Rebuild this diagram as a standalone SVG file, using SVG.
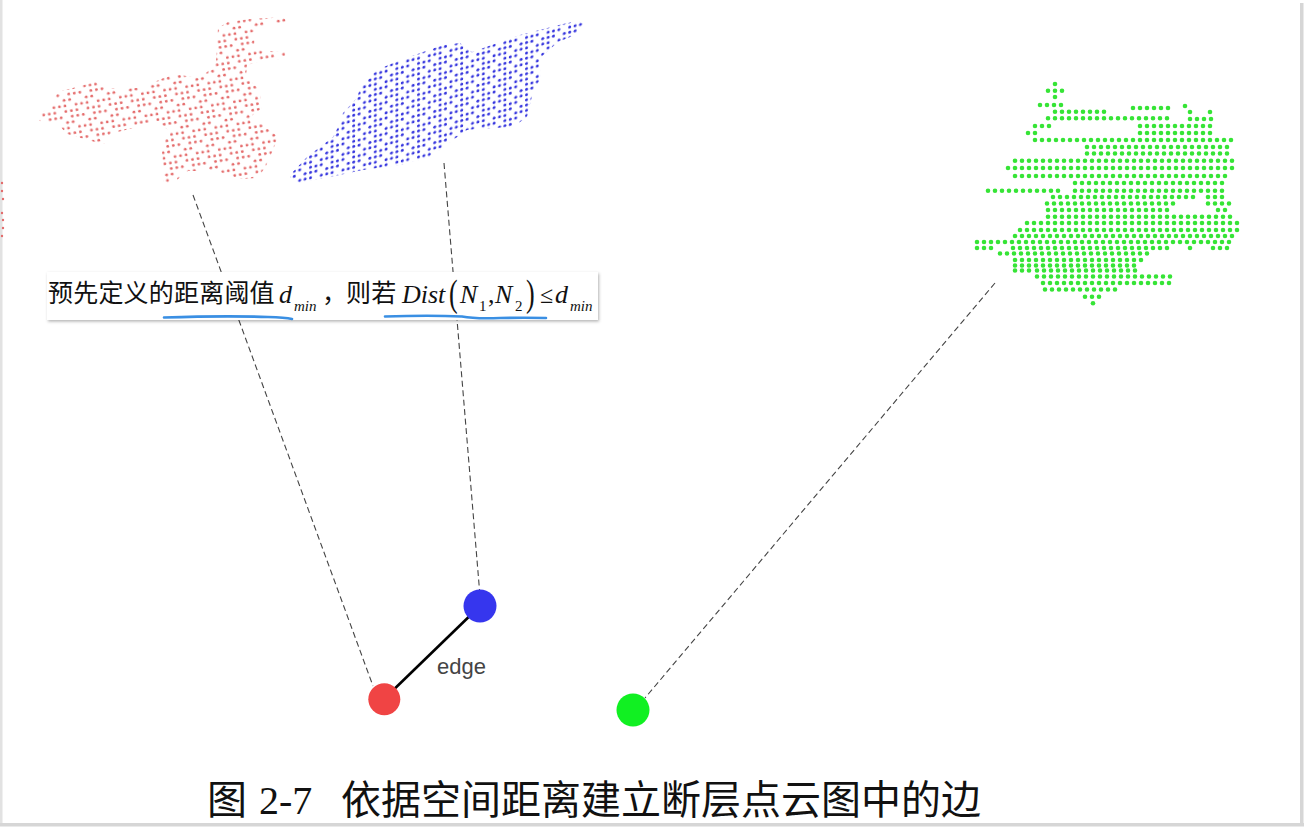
<svg xmlns="http://www.w3.org/2000/svg" width="1309" height="830" viewBox="0 0 1309 830">
<style>
.cj{font-family:"Noto Sans CJK SC","Noto Sans CJK JP",sans-serif;fill:#111}
.mi{font-family:"Liberation Serif",serif;font-style:italic;fill:#111}
.mr{font-family:"Liberation Serif",serif;fill:#111}
.dash{stroke:#444;stroke-width:1.1;stroke-dasharray:6 3.5;fill:none}
#cloud-green line{stroke:#36e436;stroke-width:4.6;stroke-linecap:round;stroke-dasharray:0 7}
.stray{fill:#e36b6b}
.rd{fill:#e46a6a}
.bd{fill:#3535de}
.ul{stroke:#3a8fe3;stroke-width:2.6;stroke-linecap:round;fill:none}
</style>
<defs>
<pattern id="pr" patternUnits="userSpaceOnUse" width="22.4" height="22.4" patternTransform="rotate(-9)">
<circle class="rd" cx="2.8" cy="2.8" r="1.4"/><circle class="rd" cx="14" cy="2.8" r="1.4"/><circle class="rd" cx="19.6" cy="2.8" r="1.4"/>
<circle class="rd" cx="2.8" cy="8.4" r="1.4"/><circle class="rd" cx="8.4" cy="8.4" r="1.4"/><circle class="rd" cx="14" cy="8.4" r="1.4"/>
<circle class="rd" cx="8.4" cy="14" r="1.4"/><circle class="rd" cx="14" cy="14" r="1.4"/><circle class="rd" cx="19.6" cy="14" r="1.4"/>
<circle class="rd" cx="2.8" cy="19.6" r="1.4"/><circle class="rd" cx="8.4" cy="19.6" r="1.4"/>
</pattern>
<pattern id="pb" patternUnits="userSpaceOnUse" width="21.6" height="15.6" patternTransform="skewY(-13.5)">
<circle class="bd" cx="2.7" cy="2.6" r="1.5"/><circle class="bd" cx="8.1" cy="2.6" r="1.5"/><circle class="bd" cx="18.9" cy="2.6" r="1.5"/>
<circle class="bd" cx="8.1" cy="7.8" r="1.5"/><circle class="bd" cx="13.5" cy="7.8" r="1.5"/><circle class="bd" cx="18.9" cy="7.8" r="1.5"/>
<circle class="bd" cx="2.7" cy="13" r="1.5"/><circle class="bd" cx="8.1" cy="13" r="1.5"/><circle class="bd" cx="13.5" cy="13" r="1.5"/>
</pattern>
<filter id="sh" x="-5%" y="-30%" width="110%" height="160%">
<feDropShadow dx="1" dy="1.5" stdDeviation="1.5" flood-color="#000" flood-opacity="0.3"/>
</filter>
</defs>
<rect width="1309" height="830" fill="#fff"/>
<rect x="0" y="0" width="2.5" height="826" fill="#e2e2e2"/>
<rect x="1300" y="3" width="3.5" height="823" fill="#d6d6d6"/>
<rect x="0" y="823" width="1304" height="3.5" fill="#d6d6d6"/>

<g id="stray-red">
<circle class="stray" cx="2" cy="183" r="1.2"/><circle class="stray" cx="2" cy="191" r="1.2"/><circle class="stray" cx="3" cy="199" r="1.2"/><circle class="stray" cx="2" cy="213" r="1.2"/><circle class="stray" cx="3" cy="220" r="1.2"/><circle class="stray" cx="3" cy="228" r="1.2"/><circle class="stray" cx="2" cy="236" r="1.2"/>
</g>

<g id="cloud-red">
<polygon fill="url(#pr)" points="37,117 50,106 58,92 95,82 110,88 140,88 173,74 200,78 213,67 216,62 218,28 228,22 250,19 285,17 286,23 255,27 254,50 285,52 286,58 258,62 247,65 246,77 260,90 262,108 250,117 267,127 278,137 273,150 265,168 257,178 240,179 217,171 188,171 173,183 164,183 162,152 168,130 157,121 133,128 110,134 104,144 95,142 67,134 58,124 40,121"/>
</g>

<g id="cloud-blue">
<polygon fill="url(#pb)" points="290,175 307,157 333,137 340,123 343,113 357,98 362,82 377,70 393,63 423,52 443,45 460,43 472,52 520,35 563,24 578,21 585,24 575,35 558,42 540,58 541,78 533,92 527,117 513,127 493,128 467,130 453,140 430,157 400,165 363,170 330,177 300,183 292,182"/>
</g>

<g id="cloud-green">
<line x1="1055" y1="84" x2="1055.5" y2="84"/>
<line x1="1048" y1="90.7" x2="1062.5" y2="90.7"/>
<line x1="1055" y1="97" x2="1055.5" y2="97"/>
<line x1="1040" y1="105" x2="1061.5" y2="105"/>
<line x1="1055" y1="111.7" x2="1104.5" y2="111.7"/>
<line x1="1133" y1="108" x2="1168.5" y2="108"/>
<line x1="1185" y1="106" x2="1185.5" y2="106"/>
<line x1="1190" y1="112" x2="1190.5" y2="112"/>
<line x1="1210" y1="112" x2="1210.5" y2="112"/>
<line x1="1048" y1="118.3" x2="1167.5" y2="118.3"/>
<line x1="1190" y1="119" x2="1211.5" y2="119"/>
<line x1="1035" y1="126" x2="1049.5" y2="126"/>
<line x1="1140" y1="126" x2="1210.5" y2="126"/>
<line x1="1028" y1="133" x2="1035.5" y2="133"/>
<line x1="1140" y1="133" x2="1210.5" y2="133"/>
<line x1="1035" y1="140" x2="1232.5" y2="140"/>
<line x1="1087" y1="147" x2="1232.5" y2="147"/>
<line x1="1087" y1="153.5" x2="1230.5" y2="153.5"/>
<line x1="1015" y1="160.7" x2="1237.5" y2="160.7"/>
<line x1="1008" y1="168" x2="1233.5" y2="168"/>
<line x1="1015" y1="176" x2="1230.5" y2="176"/>
<line x1="1075" y1="183" x2="1227.5" y2="183"/>
<line x1="988" y1="190.7" x2="1063.5" y2="190.7"/>
<line x1="1075" y1="190.7" x2="1227.5" y2="190.7"/>
<line x1="1053" y1="197" x2="1193.5" y2="197"/>
<line x1="1208" y1="197" x2="1227.5" y2="197"/>
<line x1="1047" y1="203.5" x2="1177.5" y2="203.5"/>
<line x1="1208" y1="203.5" x2="1229.5" y2="203.5"/>
<line x1="1048" y1="210" x2="1173.5" y2="210"/>
<line x1="1218" y1="210" x2="1229.5" y2="210"/>
<line x1="1048" y1="216.7" x2="1230.5" y2="216.7"/>
<line x1="1027" y1="223" x2="1237.5" y2="223"/>
<line x1="1020" y1="230" x2="1237.5" y2="230"/>
<line x1="1015" y1="236" x2="1233.5" y2="236"/>
<line x1="977" y1="242" x2="1235.5" y2="242"/>
<line x1="977" y1="248" x2="991.5" y2="248"/>
<line x1="1013" y1="248" x2="1173.5" y2="248"/>
<line x1="1190" y1="248" x2="1190.5" y2="248"/>
<line x1="1213" y1="248" x2="1233.5" y2="248"/>
<line x1="1000" y1="253.5" x2="1150.5" y2="253.5"/>
<line x1="1015" y1="260" x2="1143.5" y2="260"/>
<line x1="1015" y1="265.5" x2="1136.5" y2="265.5"/>
<line x1="1015" y1="270.5" x2="1029.5" y2="270.5"/>
<line x1="1037" y1="270.5" x2="1136.5" y2="270.5"/>
<line x1="1037" y1="276.5" x2="1170.5" y2="276.5"/>
<line x1="1043" y1="283" x2="1169.5" y2="283"/>
<line x1="1045" y1="289.5" x2="1120.5" y2="289.5"/>
<line x1="1085" y1="296.7" x2="1099.5" y2="296.7"/>
<line x1="1093" y1="303.3" x2="1093.5" y2="303.3"/>
</g>

<g id="connectors">
<line class="dash" x1="193" y1="195" x2="373" y2="686"/>
<line class="dash" x1="444" y1="163" x2="479.5" y2="590"/>
<line class="dash" x1="995" y1="283" x2="645" y2="698"/>
<line x1="384" y1="699" x2="480" y2="606" stroke="#000" stroke-width="2.6"/>
<text x="437" y="674" font-family="Liberation Sans, Arial, sans-serif" font-size="22" fill="#444">edge</text>
</g>

<g id="note">
<rect x="47" y="272" width="551" height="48" fill="#fff" filter="url(#sh)"/>
<text class="cj" x="48" y="302" font-size="25" letter-spacing="0.2">预先定义的距离阈值</text>
<text class="mi" x="279" y="303" font-size="26">d</text>
<text class="mi" x="294" y="311" font-size="15">min</text>
<text class="cj" x="322" y="302" font-size="25">，</text>
<text class="cj" x="346" y="302" font-size="25" letter-spacing="0.2">则若</text>
<text class="mi" x="402" y="303" font-size="26">Dist</text>
<text class="mr" font-size="26" transform="translate(449,306) scale(1,1.45)">(</text>
<text class="mi" x="460" y="303" font-size="26">N</text>
<text class="mr" x="479" y="311" font-size="15">1</text>
<text class="mr" x="488" y="303" font-size="26">,</text>
<text class="mi" x="495" y="303" font-size="26">N</text>
<text class="mr" x="515" y="311" font-size="15">2</text>
<text class="mr" font-size="26" transform="translate(526,306) scale(1,1.45)">)</text>
<text class="mr" x="540" y="303" font-size="24">≤</text>
<text class="mi" x="555" y="303" font-size="26">d</text>
<text class="mi" x="570" y="311" font-size="15">min</text>
<path class="ul" d="M164,317.5 Q225,315.5 268,317 Q285,317.5 292,319"/>
<path class="ul" d="M385,316.5 Q430,315 462,316.5 Q475,319 500,318 Q525,317.5 546,318"/>
</g>

<g id="node-red"><circle cx="384.3" cy="699.3" r="16" fill="#f04444"/></g>
<g id="node-blue"><circle cx="480" cy="606" r="16.5" fill="#3636ee"/></g>
<g id="node-green"><circle cx="633" cy="710" r="16.5" fill="#11f022"/></g>

<g id="caption">
<text class="cj" x="207" y="814" font-size="40">图</text>
<text class="mr" x="259" y="814" font-size="40">2-7</text>
<text class="cj" x="341" y="814" font-size="40">依据空间距离建立断层点云图中的边</text>
</g>
</svg>
